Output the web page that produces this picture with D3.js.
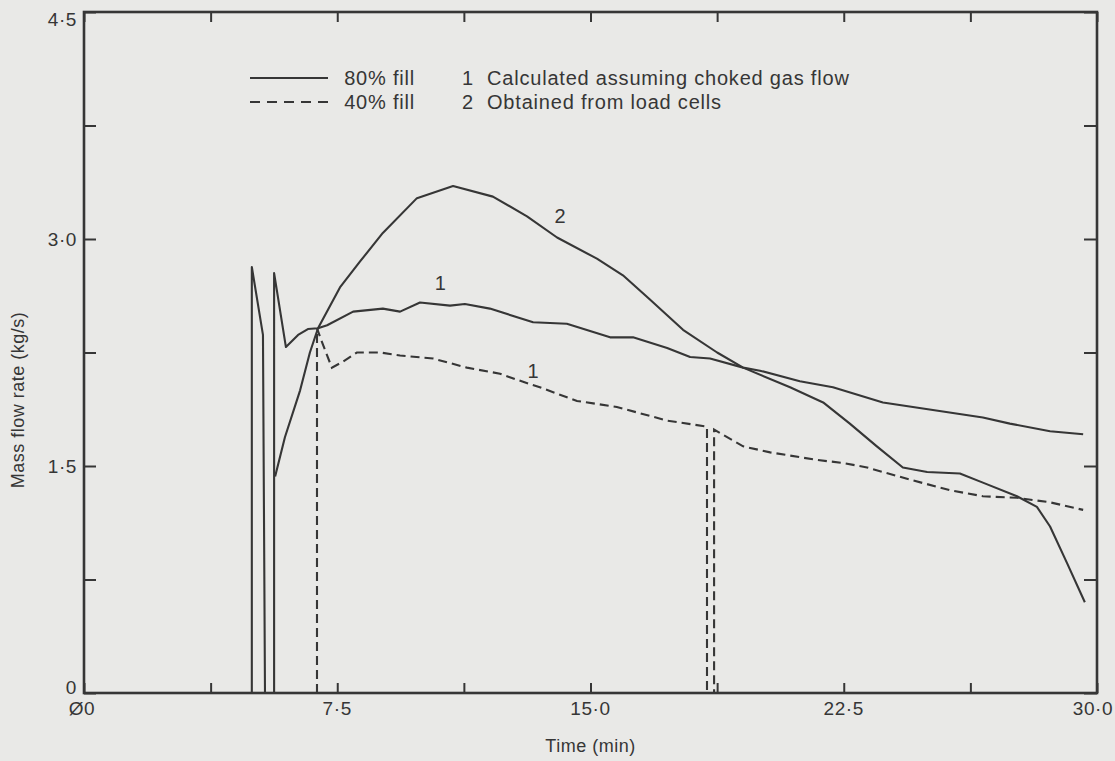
<!DOCTYPE html>
<html>
<head>
<meta charset="utf-8">
<script src="https://cdn.jsdelivr.net/npm/d3@7/dist/d3.min.js"></script>
<style>
  html, body { margin: 0; padding: 0; background: #e9e9e7; }
  svg { display: block; }
  text { font-family: "Liberation Sans", Arial, sans-serif; fill: #363636; }
</style>
</head>
<body>
<svg id="chart" width="1115" height="761"></svg>
<script>
// ---- data (time in min, mass flow rate in kg/s) ----
const xTicks = [0, 3.75, 7.5, 11.25, 15, 18.75, 22.5, 26.25, 30];
const xLabelValues = [0, 7.5, 15, 22.5, 30];
const xLabels = ["Ø0", "7·5", "15·0", "22·5", "30·0"];
const yTicks = [0, 0.75, 1.5, 2.25, 3.0, 3.75, 4.5];
const yLabelValues = [0, 1.5, 3.0, 4.5];
const yLabels = ["0", "1·5", "3·0", "4·5"];

// 80% fill, curve 1 (calculated assuming choked gas flow)
const calc80 = [
  [4.97, 0], [4.97, 2.815], [5.30, 2.366], [5.36, 0], [5.63, 0], [5.63, 2.775],
  [5.98, 2.286], [6.34, 2.366], [6.63, 2.405], [6.93, 2.41], [7.20, 2.43],
  [7.97, 2.52], [8.85, 2.54], [9.36, 2.52], [9.95, 2.58], [10.84, 2.56],
  [11.28, 2.57], [12.02, 2.54], [13.30, 2.45], [14.30, 2.44], [15.58, 2.35],
  [16.26, 2.35], [17.27, 2.28], [17.95, 2.22], [18.54, 2.21], [19.52, 2.15],
  [20.02, 2.13], [21.20, 2.06], [22.18, 2.02], [23.66, 1.92], [25.14, 1.87],
  [26.62, 1.82], [27.42, 1.78], [28.61, 1.73], [29.59, 1.71]
];
// 80% fill, curve 2 (obtained from load cells)
const load80 = [
  [5.66, 1.43], [5.95, 1.69], [6.40, 2.00], [6.69, 2.25], [6.93, 2.41],
  [7.58, 2.68], [8.17, 2.85], [8.85, 3.04], [9.86, 3.27], [10.93, 3.35],
  [12.11, 3.28], [13.12, 3.15], [14.01, 3.01], [15.19, 2.87], [15.96, 2.76],
  [16.76, 2.60], [17.74, 2.40], [18.75, 2.25], [19.52, 2.15], [20.91, 2.02],
  [21.89, 1.92], [22.68, 1.78], [23.48, 1.63], [24.25, 1.49], [24.97, 1.46],
  [25.94, 1.45], [26.62, 1.39], [27.63, 1.30], [28.22, 1.23], [28.61, 1.10],
  [29.11, 0.86], [29.64, 0.60]
];
// 40% fill, curve 1 (calculated)
const calc40 = [
  [6.90, 0], [6.90, 2.41], [7.08, 2.30], [7.34, 2.15], [7.67, 2.19], [8.08, 2.25],
  [8.77, 2.25], [9.36, 2.23], [10.34, 2.21], [11.34, 2.15], [12.32, 2.11],
  [12.82, 2.07], [13.50, 2.02], [14.60, 1.93], [15.78, 1.89], [17.27, 1.80],
  [18.45, 1.76], [18.45, 0], [18.66, 0], [18.66, 1.74], [19.52, 1.63],
  [20.32, 1.59], [21.71, 1.54], [22.48, 1.52], [23.19, 1.49], [24.46, 1.41],
  [25.65, 1.34], [26.62, 1.30], [27.63, 1.29], [28.61, 1.26], [29.59, 1.21]
];

// curve annotations [time, value, label]
const annotations = [[14.1, 3.15, "2"], [10.55, 2.71, "1"], [13.3, 2.13, "1"]];

const legendFill = [["80% fill", false], ["40% fill", true]];
const legendSource = [["1", "Calculated assuming choked gas flow"], ["2", "Obtained from load cells"]];

// ---- drawing ----
const ink = "#363636";
const svg = d3.select("#chart");
const x = d3.scaleLinear().domain([0, 30]).range([84, 1097]);
const y = d3.scaleLinear().domain([0, 4.5]).range([693, 12]);

const g = svg.append("g");

// ticks (inward on all four sides)
function styleAxis(sel) {
  sel.select(".domain").remove();
  sel.selectAll(".tick line").attr("stroke", ink).attr("stroke-width", 2);
  sel.selectAll(".tick text").remove();
}
g.append("g").attr("transform", `translate(0,${y(0)})`)
  .call(d3.axisBottom(x).tickValues(xTicks).tickSize(-10).tickFormat(""))
  .call(styleAxis);
g.append("g").attr("transform", `translate(0,${y(4.5)})`)
  .call(d3.axisTop(x).tickValues(xTicks).tickSize(-10).tickFormat(""))
  .call(styleAxis);
g.append("g").attr("transform", `translate(${x(0)},0)`)
  .call(d3.axisLeft(y).tickValues(yTicks).tickSize(-12).tickFormat(""))
  .call(styleAxis);
g.append("g").attr("transform", `translate(${x(30)},0)`)
  .call(d3.axisRight(y).tickValues(yTicks).tickSize(-13).tickFormat(""))
  .call(styleAxis);

// frame
g.append("rect")
  .attr("x", x(0)).attr("y", y(4.5))
  .attr("width", x(30) - x(0)).attr("height", y(0) - y(4.5))
  .attr("fill", "none").attr("stroke", ink).attr("stroke-width", 2.6);

// lines
const line = d3.line().x(d => x(d[0])).y(d => y(d[1]));
g.append("path").datum(calc80).attr("d", line)
  .attr("fill", "none").attr("stroke", ink).attr("stroke-width", 2.1).attr("stroke-linejoin", "round");
g.append("path").datum(load80).attr("d", line)
  .attr("fill", "none").attr("stroke", ink).attr("stroke-width", 2.1).attr("stroke-linejoin", "round");
g.append("path").datum(calc40).attr("d", line)
  .attr("fill", "none").attr("stroke", ink).attr("stroke-width", 2.1)
  .attr("stroke-dasharray", "9,5");

// annotations
g.selectAll("text.ann").data(annotations).join("text").attr("class", "ann")
  .attr("x", d => x(d[0])).attr("y", d => y(d[1]))
  .attr("text-anchor", "middle").attr("dominant-baseline", "central")
  .style("font-size", "20px").text(d => d[2]);

// tick labels
const fs = "19px";
g.selectAll("text.xl").data(xLabelValues).join("text").attr("class", "xl")
  .attr("x", (d, i) => x(d) + (i === 0 ? -2 : (i === 4 ? -4 : 0))).attr("y", y(0) + 22)
  .attr("text-anchor", "middle").style("font-size", fs).style("letter-spacing", "0.6px")
  .text((d, i) => xLabels[i]);
g.selectAll("text.yl").data(yLabelValues).join("text").attr("class", "yl")
  .attr("x", x(0) - 7).attr("y", d => Math.min(Math.max(y(d), 19), 687))
  .attr("text-anchor", "end").attr("dominant-baseline", "central")
  .style("font-size", fs).style("letter-spacing", "0.6px")
  .text((d, i) => yLabels[i]);

// axis titles
g.append("text").attr("x", (x(0) + x(30)) / 2 + 0).attr("y", 752)
  .attr("text-anchor", "middle").style("font-size", "18px").style("letter-spacing", "0.5px")
  .text("Time (min)");
g.append("text").attr("transform", `translate(24,400) rotate(-90)`)
  .attr("text-anchor", "middle").style("font-size", "18px").style("letter-spacing", "0.5px")
  .text("Mass flow rate (kg/s)");

// legend
const lg = g.append("g");
legendFill.forEach(([label, dashed], i) => {
  const yy = 78 + i * 24;
  lg.append("line").attr("x1", 250).attr("x2", dashed ? 333 : 328)
    .attr("y1", yy).attr("y2", yy).attr("stroke", ink).attr("stroke-width", 2)
    .attr("stroke-dasharray", dashed ? "10,7" : null);
  lg.append("text").attr("x", 415).attr("y", yy).attr("dominant-baseline", "central")
    .attr("text-anchor", "end")
    .style("font-size", "20px").style("letter-spacing", "0.8px").text(label);
});
legendSource.forEach(([num, label], i) => {
  const yy = 78 + i * 24;
  lg.append("text").attr("x", 462).attr("y", yy).attr("dominant-baseline", "central")
    .style("font-size", "20px").text(num);
  lg.append("text").attr("x", 487).attr("y", yy).attr("dominant-baseline", "central")
    .style("font-size", "20px").style("letter-spacing", "0.8px").text(label);
});
</script>
</body>
</html>
